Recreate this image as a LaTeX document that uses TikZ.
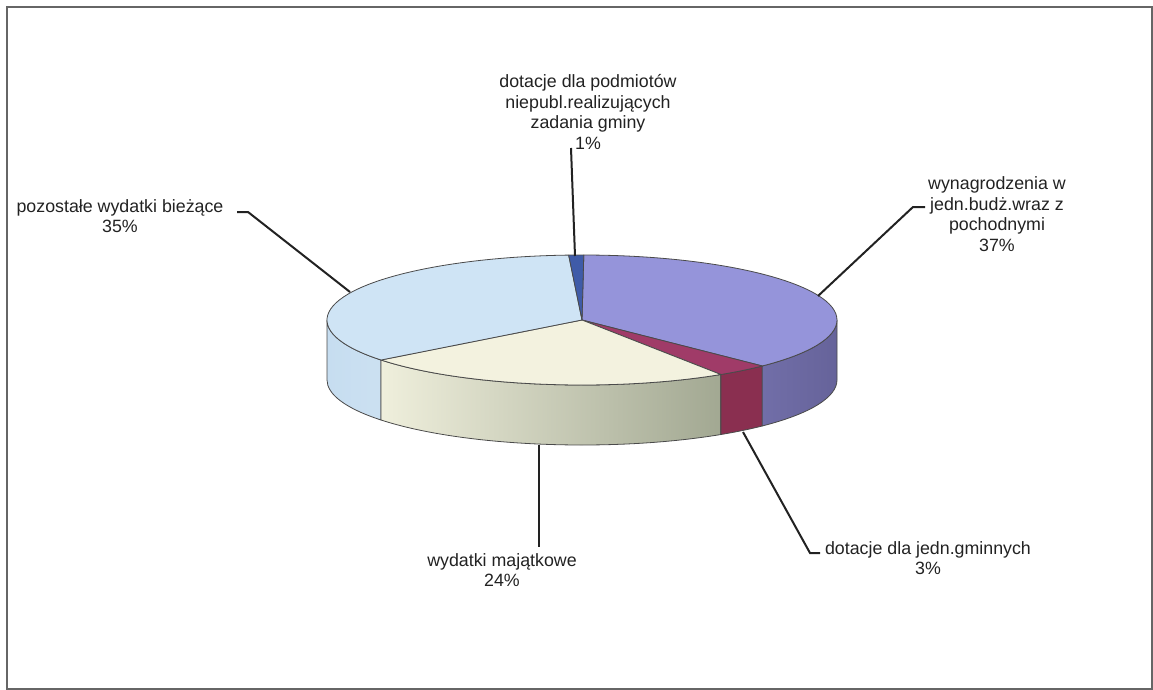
\documentclass[tikz,border=0pt]{standalone}
\usepackage{fontspec}
\setmainfont{Liberation Sans}
\definecolor{lblue}{HTML}{CFE4F5}
\definecolor{lblueside}{HTML}{C6DDF0}
\definecolor{purp}{HTML}{9594DA}
\definecolor{purpsideL}{HTML}{716EA8}
\definecolor{purpsideR}{HTML}{66639A}
\definecolor{plum}{HTML}{A03B68}
\definecolor{plumside}{HTML}{8A2F50}
\definecolor{ivory}{HTML}{F3F2DF}
\definecolor{ivoryL}{HTML}{EFEFDC}
\definecolor{ivoryR}{HTML}{A2A892}
\definecolor{dblue}{HTML}{3F5BA8}
\definecolor{edgec}{HTML}{4A4A4A}
\definecolor{txt}{HTML}{222222}
\definecolor{framec}{HTML}{666666}
\begin{document}
\begin{tikzpicture}[x=1bp,y=1bp,
  lbl/.style={font=\fontsize{17.8bp}{20.5bp}\selectfont, text=txt, align=center, inner sep=0pt},
  leader/.style={draw=txt, line width=2bp, line join=miter},
  pieedge/.style={draw=edgec, line width=0.8bp, line join=round},
  ell/.style={x radius=255bp, y radius=65bp}]
\useasboundingbox (0,0) rectangle (1153,-690);
\draw[draw=framec, line width=2bp] (7,-7) rectangle (1152,-689);

\begin{scope}[shift={(582,-320)}]
  % side faces
  \shadedraw[left color=lblueside, right color=lblueside!90!white, pieedge]
    (180:255bp and 65bp) arc[start angle=180, end angle=218, ell] -- ++(0,-60)
    arc[start angle=218, end angle=180, ell] -- cycle;
  \shadedraw[left color=ivoryL, right color=ivoryR, pieedge]
    (218:255bp and 65bp) arc[start angle=218, end angle=303, ell] -- ++(0,-60)
    arc[start angle=303, end angle=218, ell] -- cycle;
  \filldraw[fill=plumside, pieedge]
    (303:255bp and 65bp) arc[start angle=303, end angle=315, ell] -- ++(0,-60)
    arc[start angle=315, end angle=303, ell] -- cycle;
  \shadedraw[left color=purpsideL, right color=purpsideR, pieedge]
    (315:255bp and 65bp) arc[start angle=315, end angle=360, ell] -- ++(0,-60)
    arc[start angle=360, end angle=315, ell] -- cycle;
  % top faces
  \filldraw[fill=purp, pieedge] (0,0) -- (89.6:255bp and 65bp)
    arc[start angle=89.6, end angle=-45, ell] -- cycle;
  \filldraw[fill=plum, pieedge] (0,0) -- (-45:255bp and 65bp)
    arc[start angle=-45, end angle=-57, ell] -- cycle;
  \filldraw[fill=ivory, pieedge] (0,0) -- (-57:255bp and 65bp)
    arc[start angle=-57, end angle=-142, ell] -- cycle;
  \filldraw[fill=lblue, pieedge] (0,0) -- (218:255bp and 65bp)
    arc[start angle=218, end angle=93, ell] -- cycle;
  \filldraw[fill=dblue, pieedge] (0,0) -- (93:255bp and 65bp)
    arc[start angle=93, end angle=89.6, ell] -- cycle;
\end{scope}

% labels
\node[lbl] (tTop) at (588,-112) {dotacje dla podmiotów\\niepubl.realizujących\\zadania gminy\\1\%};
\node[lbl] (tLeft) at (120,-216) {pozostałe wydatki bieżące\\35\%};
\node[lbl] (tRight) at (997,-214) {wynagrodzenia w\\jedn.budż.wraz z\\pochodnymi\\37\%};
\node[lbl] (tMid) at (502,-570) {wydatki majątkowe\\24\%};
\node[lbl] (tBR) at (928,-558) {dotacje dla jedn.gminnych\\3\%};

% leader anchor points
\coordinate (pTop) at (575,-256);
\coordinate (eTop) at (571,-148);
\coordinate (pLeft) at (350,-292);
\coordinate (kLeft) at (248,-212);
\coordinate (eLeft) at (237,-212);
\coordinate (pRight) at (818,-296);
\coordinate (kRight) at (913,-207);
\coordinate (eRight) at (925,-207);
\coordinate (pMid) at (539,-445);
\coordinate (eMid) at (539,-547);
\coordinate (pBR) at (743,-432);
\coordinate (kBR) at (810,-553);
\coordinate (eBR) at (820,-553);

\draw[leader] (pTop) -- (eTop);
\draw[leader] (pLeft) -- (kLeft) -- (eLeft);
\draw[leader] (pRight) -- (kRight) -- (eRight);
\draw[leader] (pMid) -- (eMid);
\draw[leader] (pBR) -- (kBR) -- (eBR);
\end{tikzpicture}
\end{document}
